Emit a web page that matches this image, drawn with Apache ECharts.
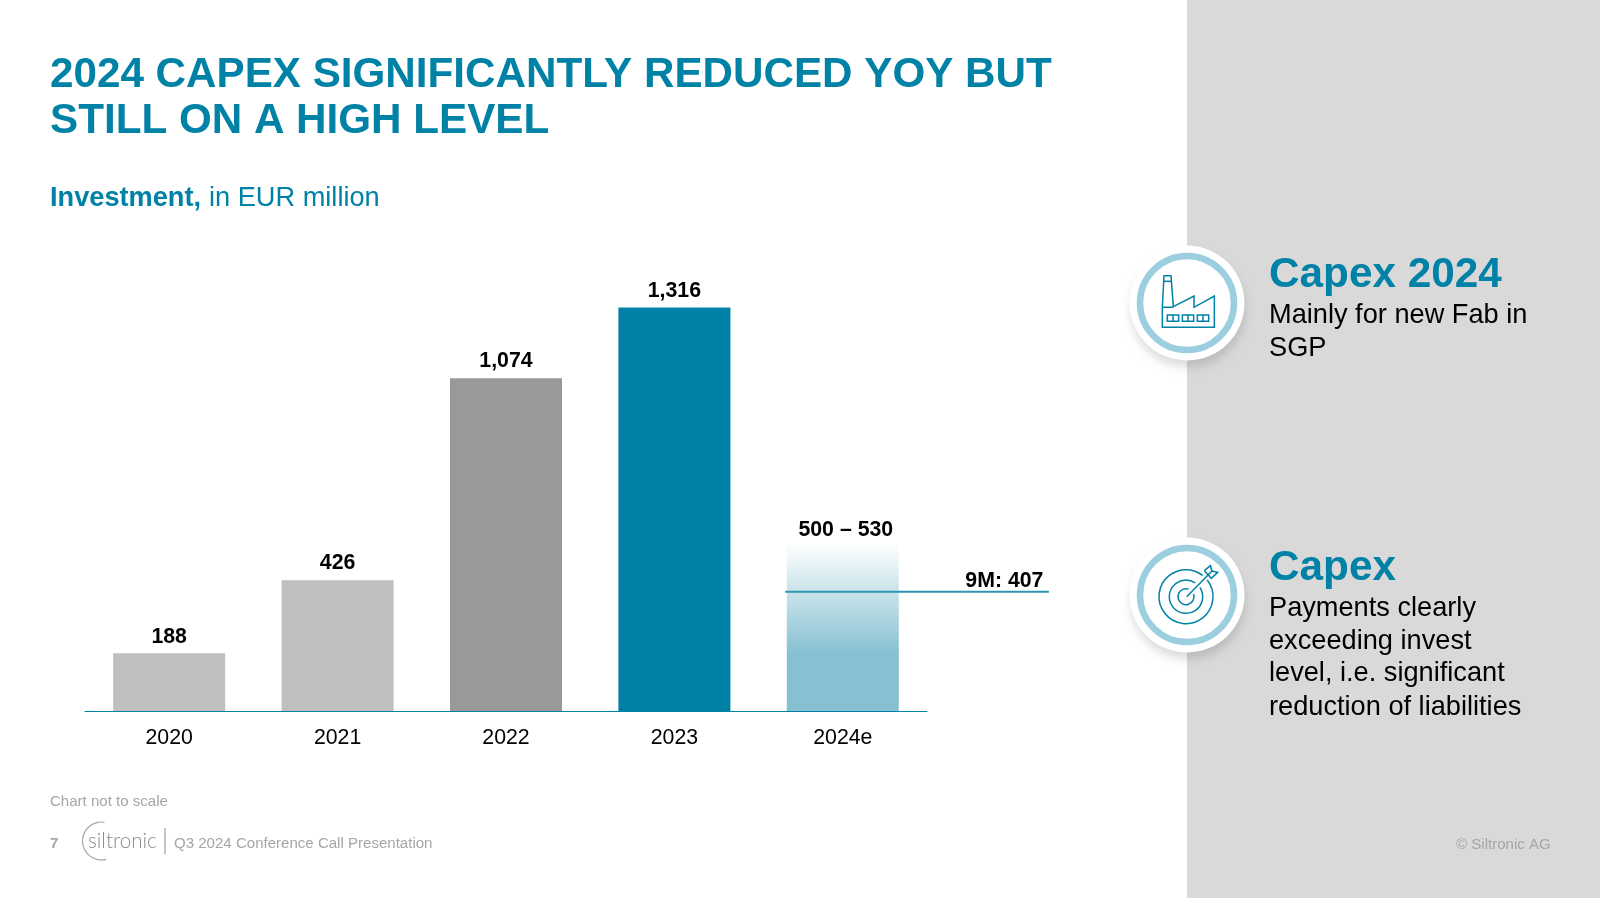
<!DOCTYPE html>
<html>
<head>
<meta charset="utf-8">
<title>Capex</title>
<script src="https://cdn.jsdelivr.net/npm/echarts@6/dist/echarts.min.js"></script>
<style>
html, body { margin: 0; padding: 0; background: #fff; }
#main { width: 1600px; height: 898px; }
</style>
</head>
<body>
<div id="main"></div>
<script>
var categories = ['2020', '2021', '2022', '2023', '2024e'];
// bar heights (the slide says "Chart not to scale")
var barHeights = [188, 426, 1085, 1316, 548];
var barLabels = ['188', '426', '1,074', '1,316', '500 – 530'];
var nineMonthHeight = 389;
var nineMonthLabel = '9M: 407';

var TEAL = '#0081a6';
var GREY_TEXT = '#a6a6a6';
var FONT = '"Liberation Sans", Arial, sans-serif';

var barColors = [
    '#bfbfbf',
    '#bfbfbf',
    '#999999',
    TEAL,
    new echarts.graphic.LinearGradient(0, 0, 0, 1, [
        { offset: 0, color: 'rgba(135,192,210,0)' },
        { offset: 0.66, color: '#87c0d2' },
        { offset: 1, color: '#87c0d2' }
    ])
];
// small nudges for the value labels
var labelNudge = [[0, -1], [0, -2], [0, -2], [0, -1], [3, 3]];

function text(x, y, str, size, color, weight, extra) {
    return {
        type: 'text', x: x, y: y, z: 20,
        style: Object.assign({
            text: str, fill: color, font: (weight || 'normal') + ' ' + size + 'px ' + FONT,
            textVerticalAlign: 'middle'
        }, extra || {})
    };
}

function badge(cy) {
    return [
        { type: 'circle', z: 5, shape: { cx: 1187, cy: cy, r: 57.5 },
          style: { fill: '#fff', shadowBlur: 9, shadowOffsetX: 1, shadowOffsetY: 7, shadowColor: 'rgba(0,0,0,0.13)' } },
        { type: 'circle', z: 6, shape: { cx: 1187, cy: cy, r: 47 },
          style: { fill: '#fff', stroke: '#9bcede', lineWidth: 6.5 } }
    ];
}

// icon outlines, 3x coordinates around the badge
var iconLine = { fill: 'none', stroke: TEAL, lineWidth: 4.5 };

function factoryIcon() {
    var kids = [
        { type: 'polyline', shape: { points: [[187, 262], [192, 167], [213, 167], [220, 260], [282, 228], [282, 262], [343, 228], [343, 322], [187, 322], [187, 262], [220, 262]] }, style: iconLine },
        { type: 'line', shape: { x1: 191, y1: 184, x2: 215, y2: 184 }, style: iconLine }
    ];
    [202, 247, 292].forEach(function (x) {
        kids.push({ type: 'rect', shape: { x: x, y: 285, width: 34, height: 19 }, style: iconLine });
        kids.push({ type: 'line', shape: { x1: x + 17, y1: 285, x2: x + 17, y2: 304 }, style: iconLine });
    });
    return { type: 'group', x: 1100, y: 220, scaleX: 1 / 3, scaleY: 1 / 3, z: 7, children: kids.map(function (k) { k.z = 7; return k; }) };
}

function targetIcon() {
    var kids = [];
    [[81, 0.12], [50, 0.2], [24, 0.45]].forEach(function (r) {
        kids.push({ type: 'arc', shape: { cx: 258, cy: 230, r: r[0], startAngle: -Math.PI / 4 + r[1], endAngle: -Math.PI / 4 - r[1] + Math.PI * 2, clockwise: true }, style: iconLine });
    });
    kids.push({ type: 'line', shape: { x1: 260, y1: 230, x2: 336, y2: 153 }, style: iconLine });
    kids.push({ type: 'polyline', shape: { points: [[313, 152], [331, 137], [336, 153], [353, 157], [334, 175], [313, 152]] }, style: iconLine });
    return { type: 'group', x: 1100, y: 520, scaleX: 1 / 3, scaleY: 1 / 3, z: 7, children: kids.map(function (k) { k.z = 7; return k; }) };
}

var graphics = [
    { type: 'rect', z: 0, shape: { x: 1187, y: 0, width: 413, height: 898 }, style: { fill: '#d9d9d9' } },

    text(50, 75, '2024 CAPEX SIGNIFICANTLY REDUCED YOY BUT', 42.2, TEAL, 'bold'),
    text(50, 121, 'STILL ON A HIGH LEVEL', 42.2, TEAL, 'bold'),

    text(50, 199, 'Investment,', 27.2, TEAL, 'bold'),
    text(209, 199, 'in EUR million', 27.2, TEAL),

    text(1269, 275, 'Capex 2024', 42.3, TEAL, 'bold'),
    text(1269, 316, 'Mainly for new Fab in', 27.2, '#000'),
    text(1269, 349, 'SGP', 27.2, '#000'),

    text(1269, 568, 'Capex', 42.3, TEAL, 'bold'),
    text(1269, 609, 'Payments clearly', 27.2, '#000'),
    text(1269, 642, 'exceeding invest', 27.2, '#000'),
    text(1269, 674, 'level, i.e. significant', 27.2, '#000'),
    text(1269, 708, 'reduction of liabilities', 27.2, '#000'),

    text(50, 801.5, 'Chart not to scale', 15.05, GREY_TEXT),
    text(50, 844, '7', 15.05, GREY_TEXT, 'bold'),
    text(174, 844, 'Q3 2024 Conference Call Presentation', 15.05, GREY_TEXT),
    text(1456, 845, '© Siltronic AG', 15.05, GREY_TEXT),

    // logo
    { type: 'arc', z: 20, shape: { cx: 101.5, cy: 841, r: 19, startAngle: Math.PI * 0.42, endAngle: Math.PI * 1.55, clockwise: true }, style: { fill: 'none', stroke: '#a6a6a6', lineWidth: 1.2 } },
    { type: 'text', x: 88, y: 841, z: 21, style: { text: 'siltronic', fill: '#8c8c8c', font: '300 20.6px Lato, ' + FONT, textVerticalAlign: 'middle' } },
    { type: 'line', z: 20, shape: { x1: 165, y1: 828, x2: 165, y2: 854 }, style: { stroke: '#8c8c8c', lineWidth: 1 } }
].concat(badge(303), badge(595), [factoryIcon(), targetIcon()]);

var chart = echarts.init(document.getElementById('main'), null, { renderer: 'canvas' });
chart.setOption({
    animation: false,
    backgroundColor: '#fff',
    textStyle: { fontFamily: FONT },
    graphic: graphics,
    grid: [
        { left: 85, width: 842, top: 251, height: 460 },
        // same bands plus one, the 9M line runs past the bars
        { left: 85, width: 1010.4, top: 251, height: 460 }
    ],
    xAxis: [
        {
            type: 'category',
            data: categories,
            axisTick: { show: false },
            axisLine: { lineStyle: { color: TEAL, width: 1 } },
            axisLabel: { color: '#000', fontSize: 21.3, margin: 17 }
        },
        { type: 'value', gridIndex: 1, min: 0, max: 6, show: false }
    ],
    yAxis: [
        { type: 'value', min: 0, max: 1500, show: false },
        { type: 'value', gridIndex: 1, min: 0, max: 1500, show: false }
    ],
    series: [
        {
            type: 'bar',
            barWidth: 112,
            z: 2,
            data: barHeights.map(function (v, i) {
                return {
                    value: v,
                    itemStyle: { color: barColors[i] },
                    label: { formatter: barLabels[i], offset: labelNudge[i] }
                };
            }),
            label: {
                show: true,
                position: 'top',
                distance: 5,
                color: '#000',
                fontWeight: 'bold',
                fontSize: 21.3
            }
        },
        {
            type: 'line',
            xAxisIndex: 1,
            yAxisIndex: 1,
            symbol: 'circle',
            symbolSize: 1,
            itemStyle: { color: 'rgba(0,0,0,0)' },
            z: 3,
            lineStyle: { color: '#2a97b5', width: 2 },
            data: [
                [4.158, nineMonthHeight],
                { value: [5.724, nineMonthHeight], label: {
                    show: true, formatter: nineMonthLabel, position: 'insideBottomRight',
                    color: '#000', fontWeight: 'bold', fontSize: 21.3, offset: [-1, 4]
                } }
            ]
        }
    ]
});
</script>
</body>
</html>
